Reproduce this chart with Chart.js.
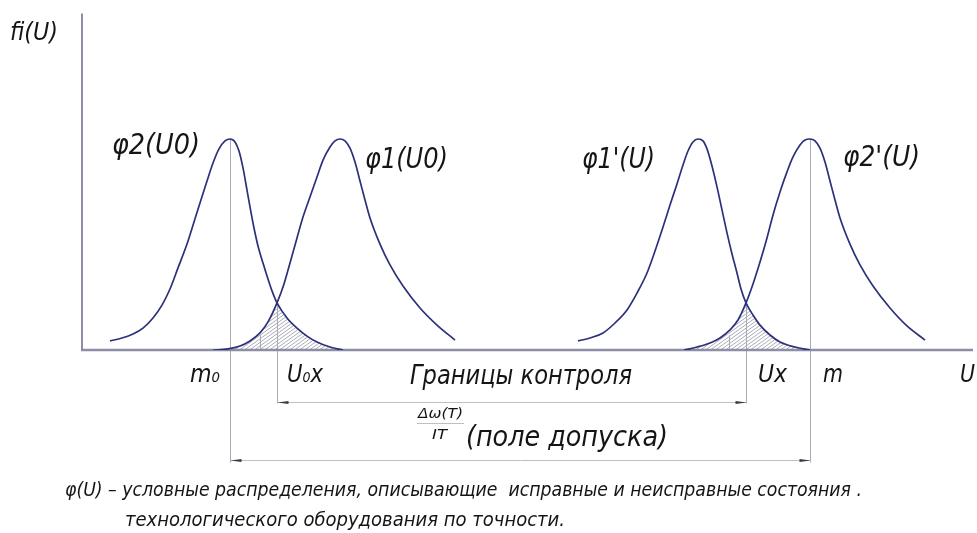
<!DOCTYPE html>
<html>
<head>
<meta charset="utf-8">
<script src="https://cdn.jsdelivr.net/npm/chart.js@4/dist/chart.umd.min.js"></script>
<style>
  html, body { margin: 0; padding: 0; background: #fff; overflow: hidden; }
  #wrap { width: 977px; height: 533px; position: relative; }
</style>
</head>
<body>
<div id="wrap"><canvas id="c"></canvas></div>
<script>
// Abscissa U (arbitrary units), ordinate fi(U) normalised so that every peak = 1.
const phi2U0X = [2.8, 4.0, 5.1, 6.1, 7.1, 8.0, 8.8, 9.6, 10.5, 11.2, 11.8, 12.5, 13.1, 13.7, 14.3, 14.8,
                 15.3, 15.7, 16.1, 16.5, 16.8, 17.2, 17.6, 18.1, 18.5, 19.0, 19.5, 20.5, 21.5, 22.5, 23.5, 24.8, 26.1];
const phi2U0Y = [0.043, 0.057, 0.076, 0.104, 0.152, 0.213, 0.289, 0.389, 0.502, 0.607, 0.697, 0.801, 0.886, 0.953, 0.991, 1.0,
                 0.986, 0.943, 0.863, 0.758, 0.678, 0.578, 0.493, 0.412, 0.351, 0.280, 0.223, 0.152, 0.104, 0.066, 0.038, 0.014, 0];

const phi1U0X = [13.1, 14.6, 15.8, 16.8, 17.8, 18.6, 19.5, 20.2, 20.8, 21.5, 22.1, 22.8, 23.5, 24.1, 24.8, 25.3, 25.8,
                 26.3, 26.8, 27.3, 27.8, 28.3, 28.8, 29.8, 30.8, 32.1, 33.8, 35.5, 37.3];
const phi1U0Y = [0, 0.005, 0.019, 0.043, 0.081, 0.133, 0.223, 0.313, 0.412, 0.531, 0.630, 0.725, 0.820, 0.900, 0.962, 0.991, 1.0,
                 0.991, 0.957, 0.891, 0.801, 0.711, 0.626, 0.502, 0.403, 0.303, 0.199, 0.118, 0.047];

const phi1pUX = [49.6, 50.8, 52.1, 53.3, 54.5, 55.5, 56.5, 57.3, 58.1, 58.8, 59.5, 60.1, 60.6, 61.1, 61.6,
                 62.1, 62.5, 63.0, 63.5, 64.0, 64.5, 65.0, 65.5, 65.9, 66.4, 67.1, 67.8, 68.8, 69.8, 71.3, 72.8];
const phi1pUY = [0.043, 0.057, 0.081, 0.128, 0.190, 0.270, 0.365, 0.469, 0.583, 0.687, 0.787, 0.877, 0.943, 0.986, 1.0,
                 0.991, 0.953, 0.872, 0.773, 0.664, 0.555, 0.455, 0.365, 0.289, 0.223, 0.166, 0.118, 0.071, 0.038, 0.014, 0];

const phi2pUX = [60.2, 61.5, 62.8, 63.8, 64.8, 65.6, 66.4, 67.1, 67.8, 68.5, 69.1, 69.8, 70.5, 71.1, 71.8, 72.3, 72.8,
                 73.3, 73.8, 74.3, 74.8, 75.3, 75.8, 76.8, 77.8, 79.1, 80.8, 82.5, 84.3];
const phi2pUY = [0, 0.014, 0.033, 0.057, 0.095, 0.142, 0.223, 0.313, 0.417, 0.531, 0.640, 0.749, 0.844, 0.915, 0.972, 0.995, 1.0,
                 0.991, 0.957, 0.891, 0.801, 0.711, 0.626, 0.502, 0.403, 0.303, 0.199, 0.114, 0.047];

// Characteristic points on the U axis
const guideU = { m0: 14.8, u0x: 19.5, ux: 66.4, m: 72.8 };
const peakLevel = 1.0;
const crossLevel = 0.223;
const hatchTickU = [17.8, 64.7];
const hatchTickLevel = 0.07;

const curveNames = ['φ2(U0)', 'φ1(U0)', "φ1'(U)", "φ2'(U)"];

const CURVE = '#2c3179';
const AXIS = '#8d8ea6';
const GUIDE = '#a9aab8';
const TEXT = '#151515';
const FAMILY = '"Liberation Sans Narrow","DejaVu Sans Condensed","Liberation Sans",sans-serif';

// Text blocks: parts = [text, relative size]; x/y = left/baseline; w = drawn width
const labels = [
  { parts: [['fi(U)', 1]], x: 10, y: 40, w: 48, size: 25 },
  { parts: [[curveNames[0], 1]], x: 112, y: 154, w: 88, size: 28 },
  { parts: [[curveNames[1], 1]], x: 365, y: 168, w: 83, size: 28 },
  { parts: [[curveNames[2], 1]], x: 582, y: 168, w: 73, size: 28 },
  { parts: [[curveNames[3], 1]], x: 843, y: 166, w: 77, size: 28 },
  { parts: [['m', 1], ['0', 0.6]], x: 190, y: 382, w: 30, size: 24 },
  { parts: [['U', 1], ['0', 0.6], ['x', 1]], x: 287, y: 382, w: 36, size: 24 },
  { parts: [['Границы контроля', 1]], x: 410, y: 384, w: 222, size: 26 },
  { parts: [['Ux', 1]], x: 758, y: 382, w: 29, size: 24 },
  { parts: [['m', 1]], x: 823, y: 382, w: 20, size: 24 },
  { parts: [['U', 1]], x: 960, y: 382, w: 15, size: 24 },
  { parts: [['Δω(T)', 1]], x: 418, y: 418, w: 45, size: 14 },
  { parts: [['IT', 1]], x: 432, y: 439, w: 15, size: 14 },
  { parts: [['(поле допуска)', 1]], x: 466, y: 446, w: 202, size: 28 },
  { parts: [['φ(U) – условные распределения, описывающие  исправные и неисправные состояния .', 1]], x: 65, y: 496, w: 797, size: 19 },
  { parts: [['технологического оборудования по точности.', 1]], x: 125, y: 526, w: 440, size: 19 }
];

function toPoints(xs, ys) { return xs.map((x, i) => ({ x, y: ys[i] })); }

function curve(label, xs, ys) {
  return {
    label, data: toPoints(xs, ys),
    borderColor: CURVE, borderWidth: 1.7,
    pointRadius: 0, fill: false,
    cubicInterpolationMode: 'monotone'
  };
}

// Hatched overlap of two neighbouring distributions
function hatch(chart, a, b) {
  const { ctx, chartArea, scales: { y } } = chart;
  const base = y.getPixelForValue(0);
  const ma = chart.getDatasetMeta(a), mb = chart.getDatasetMeta(b);
  ctx.save();
  [ma, mb].forEach(m => {
    m.dataset.updateControlPoints(chartArea, 'x');
    const pts = m.data;
    ctx.beginPath();
    m.dataset.path(ctx);
    ctx.lineTo(pts[pts.length - 1].x, base);
    ctx.lineTo(pts[0].x, base);
    ctx.closePath();
    ctx.clip();
  });
  const x0 = mb.data[0].x, x1 = ma.data[ma.data.length - 1].x;
  const top = y.getPixelForValue(0.3);
  const h = base - top, run = h * 1.4;
  ctx.strokeStyle = '#9c9dae';
  ctx.lineWidth = 0.85;
  ctx.beginPath();
  for (let s = x0 - run; s < x1 + 6; s += 5) {
    ctx.moveTo(s, base);
    ctx.lineTo(s + run, top);
  }
  ctx.stroke();
  ctx.restore();
}

function line(ctx, x0, y0, x1, y1) {
  ctx.beginPath(); ctx.moveTo(x0, y0); ctx.lineTo(x1, y1); ctx.stroke();
}

function arrow(ctx, xTip, yv, dir) {
  ctx.beginPath();
  ctx.moveTo(xTip, yv);
  ctx.lineTo(xTip + dir * 11, yv - 1.6);
  ctx.lineTo(xTip + dir * 11, yv + 1.6);
  ctx.closePath();
  ctx.fill();
}

function drawLabel(ctx, lab) {
  let total = 0;
  const segs = lab.parts.map(([t, k]) => {
    ctx.font = `italic ${lab.size * k}px ${FAMILY}`;
    const w = ctx.measureText(t).width;
    total += w;
    return { t, k, w };
  });
  ctx.save();
  ctx.translate(lab.x, lab.y);
  ctx.scale(lab.w / total, 1);
  let cx = 0;
  segs.forEach(s => {
    ctx.font = `italic ${lab.size * s.k}px ${FAMILY}`;
    ctx.fillText(s.t, cx, 0);
    cx += s.w;
  });
  ctx.restore();
}

const diagram = {
  id: 'diagram',
  beforeDatasetsDraw(chart) {
    const { ctx, chartArea, scales: { x, y } } = chart;
    const base = y.getPixelForValue(0);

    hatch(chart, 0, 1);
    hatch(chart, 2, 3);

    ctx.save();
    // guides
    ctx.strokeStyle = GUIDE;
    ctx.lineWidth = 1;
    const px = u => Math.round(x.getPixelForValue(u)) + 0.5;
    const dim1 = 402.5, dim2 = 460.5;
    line(ctx, px(guideU.m0), y.getPixelForValue(peakLevel), px(guideU.m0), dim2 + 2);
    line(ctx, px(guideU.m), y.getPixelForValue(peakLevel), px(guideU.m), dim2 + 2);
    line(ctx, px(guideU.u0x), y.getPixelForValue(crossLevel), px(guideU.u0x), dim1 + 1);
    line(ctx, px(guideU.ux), y.getPixelForValue(crossLevel), px(guideU.ux), dim1 + 1);
    hatchTickU.forEach(u => line(ctx, px(u), y.getPixelForValue(hatchTickLevel), px(u), base));
    // dimension lines
    ctx.strokeStyle = '#bdbec9';
    line(ctx, px(guideU.u0x), dim1, px(guideU.ux), dim1);
    line(ctx, px(guideU.m0), dim2, px(guideU.m), dim2);
    line(ctx, 417, 423.5, 464, 423.5);
    ctx.fillStyle = '#3a3a44';
    arrow(ctx, px(guideU.u0x), dim1, 1);
    arrow(ctx, px(guideU.ux), dim1, -1);
    arrow(ctx, px(guideU.m0), dim2, 1);
    arrow(ctx, px(guideU.m), dim2, -1);

    // axes
    ctx.strokeStyle = AXIS;
    ctx.lineWidth = 2;
    line(ctx, chartArea.left, chartArea.top + 1, chartArea.left, base);
    ctx.lineWidth = 2.6;
    line(ctx, chartArea.left - 1, base, chartArea.right, base);
    ctx.restore();
  },
  afterDatasetsDraw(chart) {
    const ctx = chart.ctx;
    ctx.save();
    ctx.fillStyle = TEXT;
    ctx.textBaseline = 'alphabetic';
    labels.forEach(l => drawLabel(ctx, l));
    ctx.restore();
  }
};

new Chart(document.getElementById('c'), {
  type: 'line',
  data: {
    datasets: [
      curve(curveNames[0], phi2U0X, phi2U0Y),
      curve(curveNames[1], phi1U0X, phi1U0Y),
      curve(curveNames[2], phi1pUX, phi1pUY),
      curve(curveNames[3], phi2pUX, phi2pUY)
    ]
  },
  options: {
    responsive: true,
    maintainAspectRatio: false,
    animation: false,
    events: [],
    layout: { padding: { left: 82, right: 4, top: 12.4, bottom: 183 } },
    scales: {
      x: { type: 'linear', min: 0, max: 89.1, display: false },
      y: { min: 0, max: 1.6, display: false }
    },
    plugins: { legend: { display: false }, tooltip: { enabled: false } }
  },
  plugins: [diagram]
});
</script>
</body>
</html>
